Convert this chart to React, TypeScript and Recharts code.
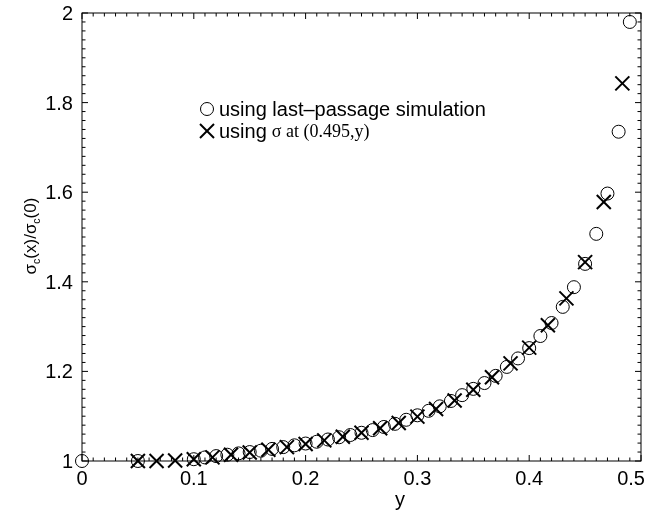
import React from 'react';
import { ScatterChart, Scatter, XAxis, YAxis, Legend } from 'recharts';

// ---- data ----
const circleX = [0, 0.05, 0.1, 0.11, 0.12, 0.13, 0.14, 0.15, 0.16, 0.17, 0.18, 0.19, 0.2, 0.21, 0.22, 0.23, 0.24, 0.25, 0.26, 0.27, 0.28, 0.29, 0.3, 0.31, 0.32, 0.33, 0.34, 0.35, 0.36, 0.37, 0.38, 0.39, 0.4, 0.41, 0.42, 0.43, 0.44, 0.45, 0.46, 0.47, 0.48, 0.49];
const circleY = [1.0, 1.0, 1.004, 1.008, 1.011, 1.014, 1.017, 1.02, 1.023, 1.027, 1.031, 1.035, 1.039, 1.043, 1.048, 1.053, 1.058, 1.063, 1.069, 1.076, 1.083, 1.092, 1.102, 1.112, 1.122, 1.134, 1.147, 1.161, 1.174, 1.19, 1.21, 1.229, 1.252, 1.279, 1.308, 1.344, 1.388, 1.44, 1.507, 1.597, 1.735, 1.98];

const crossX = [0.05, 0.0667, 0.0833, 0.1, 0.1167, 0.1333, 0.15, 0.1667, 0.1833, 0.2, 0.2167, 0.2333, 0.25, 0.2667, 0.2833, 0.3, 0.3167, 0.3333, 0.35, 0.3667, 0.3833, 0.4, 0.4167, 0.4333, 0.45, 0.4667, 0.4833];
const crossY = [1.0, 1.0, 1.001, 1.004, 1.008, 1.014, 1.019, 1.025, 1.031, 1.038, 1.046, 1.054, 1.063, 1.073, 1.085, 1.099, 1.116, 1.135, 1.159, 1.187, 1.218, 1.253, 1.303, 1.363, 1.444, 1.578, 1.843];

const X_MAJOR = [0, 0.1, 0.2, 0.3, 0.4, 0.5];
const X_MAJOR_LABELS = ['0', '0.1', '0.2', '0.3', '0.4', '0.5'];
const Y_MAJOR = [1, 1.2, 1.4, 1.6, 1.8, 2];
const Y_MAJOR_LABELS = ['1', '1.2', '1.4', '1.6', '1.8', '2'];
const X_MINOR_STEP = 0.01;
const Y_MINOR_STEP = 0.02;

const X_TICKS = Array.from({ length: 51 }, (_, i) => +(i * X_MINOR_STEP).toFixed(4));
const Y_TICKS = Array.from({ length: 51 }, (_, i) => +(1 + i * Y_MINOR_STEP).toFixed(4));

const circleData = circleX.map((x, i) => ({ x, y: circleY[i] }));
const crossData = crossX.map((x, i) => ({ x, y: crossY[i] }));

// ---- layout ----
const W = 654;
const H = 520;
const PL = 82;
const PR = 641;
const PT = 13;
const PB = 461;
const FONT = '"Liberation Sans", Arial, Helvetica, sans-serif';
const SERIF = '"Liberation Serif", "Times New Roman", serif';

const majorIndex = (arr: number[], v: number) => arr.findIndex((m) => Math.abs(m - v) < 1e-6);

const XTick = (props: any) => {
  const { x, payload } = props;
  const idx = majorIndex(X_MAJOR, payload.value);
  const len = idx >= 0 ? 6 : 3.5;
  const isLast = idx === X_MAJOR.length - 1;
  return (
    <g>
      <line x1={x} x2={x} y1={PB} y2={PB - len} stroke="#000" strokeWidth={1} />
      <line x1={x} x2={x} y1={PT} y2={PT + len} stroke="#000" strokeWidth={1} />
      {idx >= 0 && (
        <text
          x={isLast ? x + 4 : x}
          y={PB + 24}
          textAnchor={isLast ? 'end' : 'middle'}
          fontFamily={FONT}
          fontSize={20}
          fill="#000"
        >
          {X_MAJOR_LABELS[idx]}
        </text>
      )}
    </g>
  );
};

const YTick = (props: any) => {
  const { y, payload } = props;
  const idx = majorIndex(Y_MAJOR, payload.value);
  const len = idx >= 0 ? 6 : 3.5;
  return (
    <g>
      {idx === 0 && (
        <rect x={PL} y={PT} width={PR - PL} height={PB - PT} fill="none" stroke="#000" strokeWidth={1} />
      )}
      <line x1={PL} x2={PL + len} y1={y} y2={y} stroke="#000" strokeWidth={1} />
      <line x1={PR} x2={PR - len} y1={y} y2={y} stroke="#000" strokeWidth={1} />
      {idx >= 0 && (
        <text x={PL - 9} y={y + 7} textAnchor="end" fontFamily={FONT} fontSize={20} fill="#000">
          {Y_MAJOR_LABELS[idx]}
        </text>
      )}
    </g>
  );
};

const CircleShape = (props: any) => {
  const { cx, cy } = props;
  if (cx == null || cy == null) return null;
  return <circle cx={cx} cy={cy} r={6.5} fill="none" stroke="#000" strokeWidth={1} />;
};

const CrossShape = (props: any) => {
  const { cx, cy } = props;
  if (cx == null || cy == null) return null;
  const s = 7;
  return (
    <g stroke="#000" strokeWidth={2}>
      <line x1={cx - s} y1={cy - s} x2={cx + s} y2={cy + s} />
      <line x1={cx - s} y1={cy + s} x2={cx + s} y2={cy - s} />
    </g>
  );
};

const YLabel = () => (
  <text
    x={0}
    y={0}
    transform={`translate(36, 236) rotate(-90)`}
    textAnchor="middle"
    fontFamily={FONT}
    fontSize={17}
    fill="#000"
  >
    σ<tspan fontSize={10.5} dy={4}>c</tspan>
    <tspan dy={-4}>(x)/σ</tspan>
    <tspan fontSize={10.5} dy={4}>c</tspan>
    <tspan dy={-4}>(0)</tspan>
  </text>
);

const XLabel = () => (
  <text x={400} y={506} textAnchor="middle" fontFamily={FONT} fontSize={20} fill="#000">
    y
  </text>
);

const LegendContent = () => (
  <div style={{ fontFamily: FONT, fontSize: 20, color: '#000', lineHeight: '22px', whiteSpace: 'nowrap' }}>
    <div style={{ display: 'flex', alignItems: 'center', height: 22 }}>
      <svg width={18} height={18} style={{ marginRight: 2 }}>
        <circle cx={8} cy={9} r={6.5} fill="none" stroke="#000" strokeWidth={1} />
      </svg>
      <span>using last–passage simulation</span>
    </div>
    <div style={{ display: 'flex', alignItems: 'center', height: 22 }}>
      <svg width={18} height={18} style={{ marginRight: 2 }}>
        <g stroke="#000" strokeWidth={2}>
          <line x1={1} y1={2} x2={15} y2={16} />
          <line x1={1} y1={16} x2={15} y2={2} />
        </g>
      </svg>
      <span>using</span>
      <span style={{ fontFamily: SERIF, fontSize: 18, marginLeft: 5 }}>σ at (0.495,y)</span>
    </div>
  </div>
);

export default function App() {
  return (
    <div style={{ position: 'fixed', left: 0, top: 0, width: W, height: H }}>
      <ScatterChart width={W} height={H} margin={{ top: PT, right: W - PR, bottom: 0, left: 0 }}>
        <XAxis
          type="number"
          dataKey="x"
          domain={[0, 0.5]}
          ticks={X_TICKS}
          interval={0}
          tick={<XTick />}
          tickLine={false}
          axisLine={false}
          height={H - PB}
          label={<XLabel />}
        />
        <YAxis
          type="number"
          dataKey="y"
          domain={[1, 2]}
          ticks={Y_TICKS}
          interval={0}
          tick={<YTick />}
          tickLine={false}
          axisLine={false}
          width={PL}
          label={<YLabel />}
        />
        <Legend
          layout="vertical"
          align="center"
          verticalAlign="middle"
          content={<LegendContent />}
          wrapperStyle={{ left: 199, top: 98, width: 340 }}
        />
        <Scatter data={circleData} shape={<CircleShape />} isAnimationActive={false} />
        <Scatter data={crossData} shape={<CrossShape />} isAnimationActive={false} />
      </ScatterChart>
    </div>
  );
}
